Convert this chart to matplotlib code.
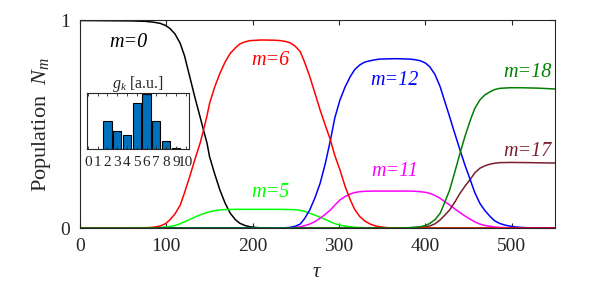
import matplotlib
matplotlib.use("Agg")
import matplotlib.pyplot as plt

plt.rcParams['font.family'] = ['Liberation Serif', 'DejaVu Serif']
plt.rcParams['mathtext.fontset'] = 'custom'
plt.rcParams['mathtext.rm'] = 'Liberation Serif'
plt.rcParams['mathtext.it'] = 'Liberation Serif:italic'

# populations (tau, N)
t0 = [0, 60, 75, 85, 93, 99, 104, 110, 116, 121, 127, 133, 139, 143, 147, 150, 156, 162, 168, 174,
      180, 185, 191, 197, 205, 215, 550]
n0 = [1.0, 0.998, 0.996, 0.992, 0.986, 0.976, 0.962, 0.935, 0.89, 0.83, 0.73, 0.63, 0.536, 0.472, 0.41,
      0.344, 0.26, 0.183, 0.12, 0.071, 0.04, 0.023, 0.012, 0.006, 0.002, 0.0, 0.0]

t6 = [0, 70, 81, 87, 93, 99, 104, 110, 116, 121, 127, 133, 139, 143, 147, 150, 156, 162, 168, 174, 180,
      185, 191, 197, 210, 225, 232, 238, 243, 249, 255, 260, 266, 272, 278, 284, 290, 295, 301, 307, 313,
      318, 324, 330, 336, 342, 347, 355, 365, 550]
n6 = [0.0, 0.0, 0.002, 0.005, 0.01, 0.021, 0.039, 0.068, 0.11, 0.17, 0.247, 0.33, 0.408, 0.472, 0.54, 0.6,
      0.68, 0.745, 0.80, 0.842, 0.868, 0.887, 0.897, 0.903, 0.906, 0.905, 0.903, 0.899, 0.893, 0.877, 0.85,
      0.80, 0.73, 0.65, 0.569, 0.495, 0.424, 0.35, 0.28, 0.2, 0.135, 0.09, 0.055, 0.033, 0.019, 0.01, 0.006,
      0.002, 0.0, 0.0]

t5 = [0, 90, 100, 105, 110, 115, 120, 125, 130, 135, 140, 145, 150, 155, 160, 165, 170, 180, 230, 243,
      250, 255, 260, 266, 272, 278, 284, 290, 295, 301, 307, 313, 320, 330, 340, 550]
n5 = [0.0, 0.002, 0.005, 0.008, 0.012, 0.019, 0.028, 0.037, 0.047, 0.056, 0.065, 0.072, 0.078, 0.083, 0.086,
      0.088, 0.089, 0.09, 0.09, 0.089, 0.088, 0.085, 0.08, 0.071, 0.062, 0.052, 0.041, 0.03, 0.021, 0.014,
      0.009, 0.006, 0.003, 0.001, 0.0, 0.0]

t12 = [0, 230, 237, 243, 249, 255, 260, 266, 272, 278, 284, 290, 295, 301, 307, 313, 318, 324, 330, 336,
       342, 347, 365, 382, 388, 394, 400, 405, 411, 417, 422, 428, 434, 440, 446, 452, 457, 463, 469, 475,
       480, 486, 492, 498, 504, 510, 520, 530, 550]
n12 = [0.0, 0.0, 0.001, 0.003, 0.008, 0.019, 0.045, 0.087, 0.145, 0.215, 0.31, 0.424, 0.53, 0.617, 0.68,
       0.73, 0.763, 0.786, 0.8, 0.806, 0.811, 0.814, 0.816, 0.814, 0.811, 0.806, 0.795, 0.777, 0.74, 0.681,
       0.615, 0.536, 0.455, 0.376, 0.3, 0.231, 0.172, 0.119, 0.083, 0.055, 0.035, 0.022, 0.014, 0.009,
       0.005, 0.003, 0.001, 0.0, 0.0]

t11 = [0, 240, 249, 255, 260, 266, 272, 278, 284, 290, 295, 301, 307, 313, 318, 324, 330, 340, 380, 388,
       394, 400, 405, 411, 417, 422, 428, 434, 440, 446, 452, 457, 463, 469, 475, 480, 486, 495, 505, 550]
n11 = [0.0, 0.0, 0.003, 0.006, 0.011, 0.019, 0.031, 0.047, 0.066, 0.087, 0.11, 0.135, 0.152, 0.164, 0.171,
       0.175, 0.177, 0.178, 0.178, 0.177, 0.175, 0.172, 0.167, 0.157, 0.143, 0.128, 0.111, 0.092, 0.074,
       0.057, 0.042, 0.03, 0.019, 0.012, 0.008, 0.005, 0.003, 0.001, 0.0, 0.0]

t17 = [0, 380, 394, 400, 405, 411, 417, 422, 428, 434, 440, 446, 452, 457, 463, 469, 475, 480, 486, 500,
       520, 550]
n17 = [0.0, 0.0, 0.003, 0.006, 0.01, 0.02, 0.039, 0.06, 0.087, 0.125, 0.167, 0.203, 0.235, 0.265, 0.288,
       0.3, 0.308, 0.312, 0.315, 0.316, 0.315, 0.313]

t18 = [0, 370, 382, 388, 394, 400, 405, 411, 417, 422, 428, 434, 440, 446, 452, 457, 463, 469, 475, 480,
       486, 498, 510, 530, 550]
n18 = [0.0, 0.0, 0.002, 0.004, 0.006, 0.012, 0.022, 0.04, 0.071, 0.12, 0.183, 0.27, 0.36, 0.445, 0.52,
       0.575, 0.617, 0.642, 0.657, 0.667, 0.673, 0.676, 0.676, 0.674, 0.67]

# inset couplings g_k
gk_k = [2, 3, 4, 5, 6, 7, 8, 9]
gk_v = [0.51, 0.32, 0.26, 0.82, 0.98, 0.51, 0.14, 0.01]

dark = '#262626'
fig = plt.figure(figsize=(6.14, 2.83), dpi=100)
ax = fig.add_axes([0.1303, 0.1943, 0.7736, 0.7333])

lw = 1.1
ax.plot(t0, n0, color='black', lw=lw)
ax.plot(t5, n5, color='#00ff00', lw=lw)
ax.plot(t11, n11, color='#ff00ff', lw=lw)
ax.plot(t17, n17, color='#7a1f2e', lw=lw)
ax.plot(t12, n12, color='#0000ff', lw=lw)
ax.plot(t6, n6, color='#ff0000', lw=lw)
ax.plot(t18, n18, color='#008000', lw=lw)

ax.set_xlim(0, 550)
ax.set_ylim(0, 1)
ax.set_xticks([0, 100, 200, 300, 400, 500])
ax.set_yticks([0, 1])
ax.tick_params(direction='in', top=True, right=True, length=3.5, width=0.8,
               labelsize=14, colors=dark)
ax.tick_params(axis='x', pad=7)
ax.tick_params(axis='y', pad=7)
for s in ax.spines.values():
    s.set_color(dark)
    s.set_linewidth(0.8)
ax.set_xlabel(r'$\tau$', fontsize=15, color=dark, labelpad=6)
ax.set_ylabel(r'Population  $N_m$', fontsize=16, color=dark, labelpad=5)

fs = 14.5
ax.text(55.6, 0.896, 'm=0', color='black', style='italic', fontsize=fs, ha='center', va='center')
ax.text(221, 0.805, 'm=6', color='#ff0000', style='italic', fontsize=fs, ha='center', va='center')
ax.text(221, 0.17, 'm=5', color='#00ff00', style='italic', fontsize=fs, ha='center', va='center')
ax.text(364, 0.71, 'm=12', color='#0000ff', style='italic', fontsize=fs, ha='center', va='center')
ax.text(364, 0.27, 'm=11', color='#ff00ff', style='italic', fontsize=fs, ha='center', va='center')
ax.text(518, 0.75, 'm=18', color='#008000', style='italic', fontsize=fs, ha='center', va='center')
ax.text(518, 0.37, 'm=17', color='#7a1f2e', style='italic', fontsize=fs, ha='center', va='center')

ins = fig.add_axes([0.1412, 0.4735, 0.1671, 0.1968])
ins.bar(gk_k, gk_v, width=0.85, color='#0072bd', edgecolor='black', linewidth=0.8)
ins.set_xlim(-0.13, 10.38)
ins.set_ylim(0, 1)
ins.set_xticks(range(11))
ins.set_yticks([])
ins.tick_params(direction='in', top=True, length=2, width=0.6, labelsize=11, colors=dark, pad=5)
for s in ins.spines.values():
    s.set_color(dark)
    s.set_linewidth(0.8)
ins.set_title(r'$g_k$ [a.u.]', fontsize=11.5, color=dark, pad=4)

fig.savefig('out.png', dpi=100)
